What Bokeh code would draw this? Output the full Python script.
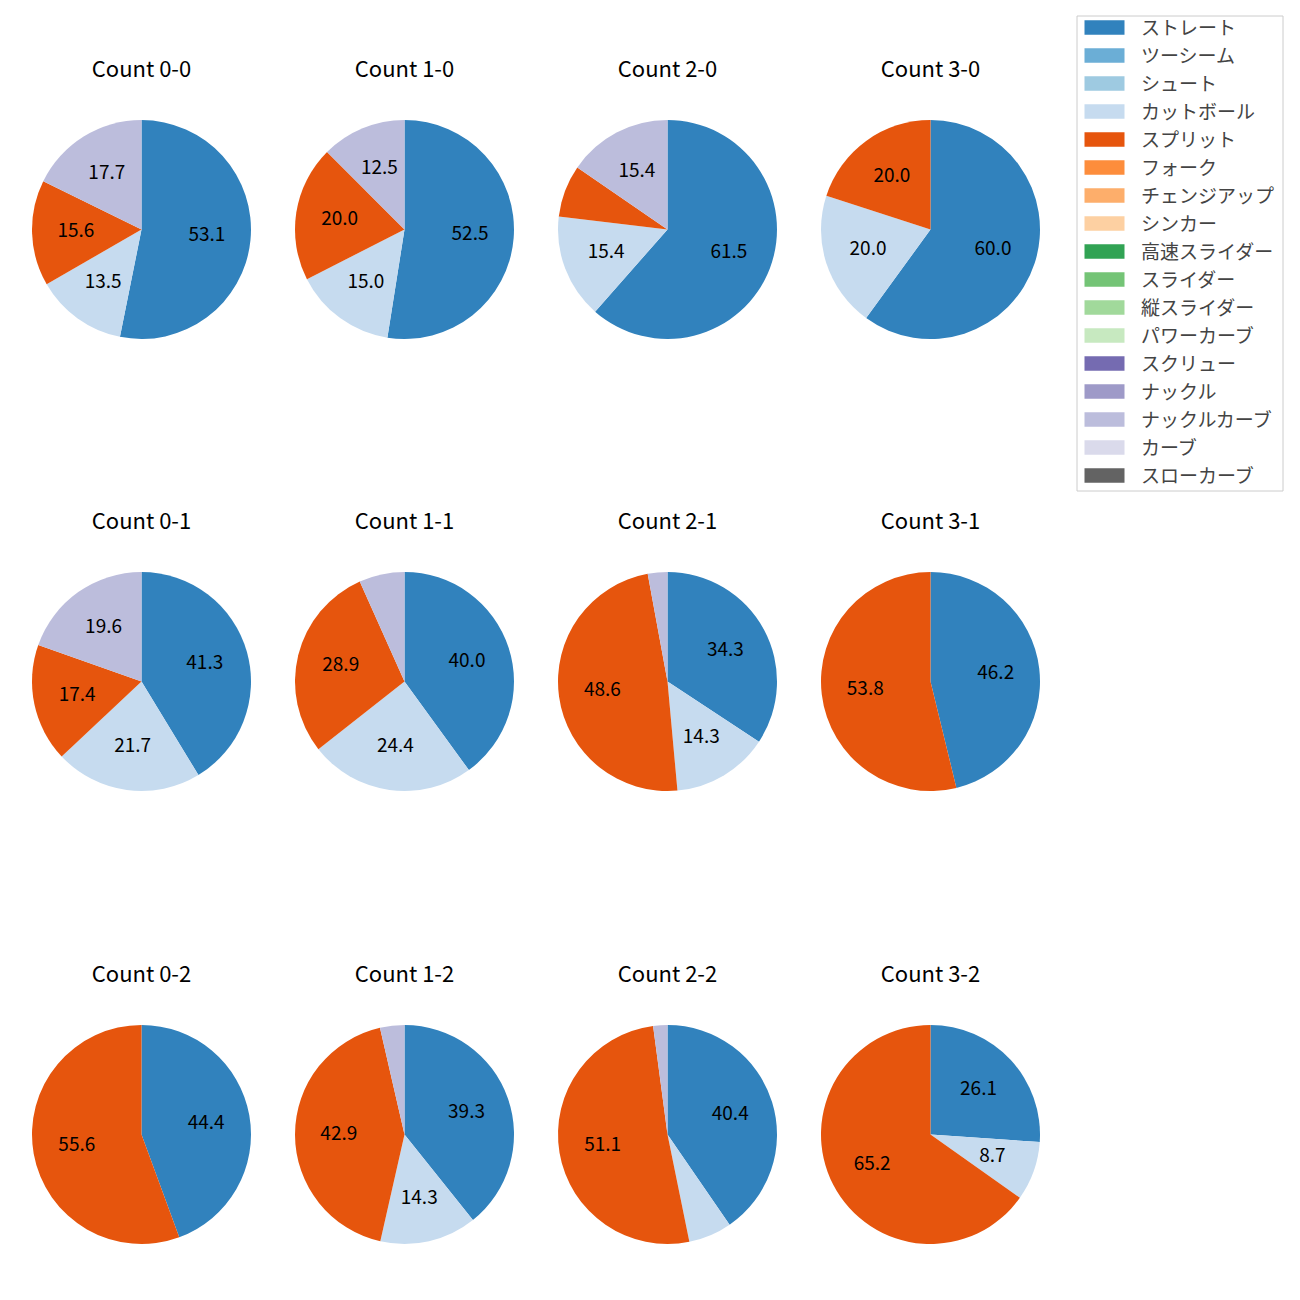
import math
from bokeh.plotting import figure
from bokeh.models import Legend, LegendItem, ColumnDataSource, Range1d
from bokeh.core.properties import value
from bokeh.embed import file_html
from bokeh.resources import INLINE

FONT = "Noto Sans CJK JP"

pitch_types = ["ストレート", "ツーシーム", "シュート", "カットボール", "スプリット", "フォーク",
               "チェンジアップ", "シンカー", "高速スライダー", "スライダー", "縦スライダー",
               "パワーカーブ", "スクリュー", "ナックル", "ナックルカーブ", "カーブ", "スローカーブ"]
pitch_colors = ["#3182bd", "#6baed6", "#9ecae1", "#c6dbef", "#e6550d", "#fd8d3c",
                "#fdae6b", "#fdd0a2", "#31a354", "#74c476", "#a1d99b", "#c7e9c0",
                "#756bb1", "#9e9ac8", "#bcbddc", "#dadaeb", "#636363"]

# pitch types used in pies, in clockwise order from 12 o'clock
used_types = ["ストレート", "カットボール", "スプリット", "ナックルカーブ"]

counts = ["0-0", "1-0", "2-0", "3-0",
          "0-1", "1-1", "2-1", "3-1",
          "0-2", "1-2", "2-2", "3-2"]
straight = [53.1, 52.5, 61.5, 60.0, 41.3, 40.0, 34.3, 46.2, 44.4, 39.3, 40.4, 26.1]
cutter   = [13.5, 15.0, 15.4, 20.0, 21.7, 24.4, 14.3, 0.0, 0.0, 14.3, 6.4, 8.7]
split    = [15.6, 20.0, 7.7, 20.0, 17.4, 28.9, 48.6, 53.8, 55.6, 42.9, 51.1, 65.2]
kcurve   = [17.7, 12.5, 15.4, 0.0, 19.6, 6.7, 2.9, 0.0, 0.0, 3.6, 2.1, 0.0]

W = H = 1300
col_x = [141, 404, 667, 930]
row_y = [229, 681, 1134]
R = 109.5
title_dy = 162.5
label_dy = 1.5
label_min = 8.0

p = figure(width=W, height=H, output_backend="svg", toolbar_location=None,
           x_range=Range1d(0, W), y_range=Range1d(0, H), min_border=0)
p.xaxis.visible = False
p.yaxis.visible = False
p.grid.visible = False
p.outline_line_color = None
p.background_fill_color = "white"
p.border_fill_color = "white"

series = [straight, cutter, split, kcurve]
color_of = dict(zip(pitch_types, pitch_colors))

wx, wy, ws, we, wc = [], [], [], [], []
tx, ty, tt = [], [], []
hx, hy, ht = [], [], []
for i, c in enumerate(counts):
    cx = col_x[i % 4]
    cy = H - row_y[i // 4]
    vals = [s[i] for s in series]
    total = sum(vals)
    cum = 0.0
    for name, v in zip(used_types, vals):
        if v <= 0:
            continue
        a0 = math.pi / 2 - 2 * math.pi * cum / total
        a1 = math.pi / 2 - 2 * math.pi * (cum + v) / total
        wx.append(cx); wy.append(cy); ws.append(a1); we.append(a0); wc.append(color_of[name])
        if v >= label_min:
            mid = (a0 + a1) / 2
            tx.append(cx + 0.6 * R * math.cos(mid))
            ty.append(cy + 0.6 * R * math.sin(mid) + label_dy)
            tt.append(f"{v:.1f}")
        cum += v
    hx.append(cx); hy.append(cy + title_dy); ht.append(f"Count {c}")

p.wedge(x="x", y="y", radius=R, start_angle="s", end_angle="e", fill_color="c",
        line_color=None, direction="anticlock",
        source=ColumnDataSource(dict(x=wx, y=wy, s=ws, e=we, c=wc)))
p.text(x="x", y="y", text="t", source=ColumnDataSource(dict(x=tx, y=ty, t=tt)),
       text_font=value(FONT), text_font_size="19px", text_align="center",
       text_baseline="middle", text_color="black")
p.text(x="x", y="y", text="t", source=ColumnDataSource(dict(x=hx, y=hy, t=ht)),
       text_font=value(FONT), text_font_size="22px", text_align="center",
       text_baseline="middle", text_color="black")

# legend frame (screen layout box)
lg_left, lg_right, lg_top, lg_bottom = 1076, 1283, 15, 491
p.quad(left=[lg_left + 0.5], right=[lg_right - 0.5], top=[H - lg_top - 0.5], bottom=[H - lg_bottom + 0.5],
       fill_color="white", line_color="#cccccc", line_width=1)

items = []
for name, col in zip(pitch_types, pitch_colors):
    # zero-area quad: only serves as the legend's swatch source
    r = p.quad(left=[0], right=[0], top=[0], bottom=[0], fill_color=col, line_color=None)
    items.append(LegendItem(label=name, renderers=[r]))

legend = Legend(items=items, location=(1079, H - lg_bottom + 3), orientation="vertical",
                glyph_width=50, glyph_height=18, label_height=20, spacing=1,
                padding=0, margin=0, label_standoff=12,
                label_text_font=FONT, label_text_font_size="19px",
                border_line_color=None, background_fill_alpha=0.0)
p.add_layout(legend, "center")

open("out.html", "w").write(file_html(p, INLINE))
